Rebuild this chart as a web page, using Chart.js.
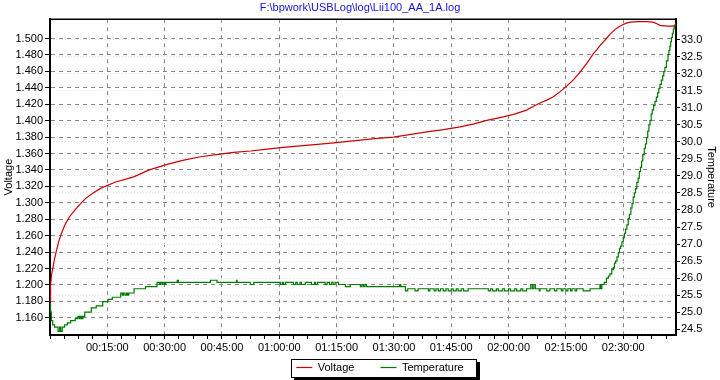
<!DOCTYPE html>
<html>
<head>
<meta charset="utf-8">
<script src="https://cdn.jsdelivr.net/npm/chart.js@4/dist/chart.umd.min.js"></script>
<style>
html,body{margin:0;padding:0;background:#fff;}
#wrap{width:720px;height:380px;}
</style>
</head>
<body>
<div id="wrap"><canvas id="c" width="720" height="380"></canvas></div>
<script>
// ---- data (time in minutes) ----
const chartTitle = 'F:\\bpwork\\USBLog\\log\\Lii100_AA_1A.log';
const seriesNames = ['Voltage', 'Temperature'];

const voltTime = [0, 0.15, 0.4, 0.8, 1.2, 1.7, 2.3, 3.0, 4.0, 5.1, 6.5, 8.0, 9.5, 11.3, 13.2, 17.0, 21.9, 26.0, 30.7, 35.0, 39.4, 44.0, 48.1, 52.5, 56.8, 61.0, 65.5, 70.0, 74.2, 78.0, 81.2, 85.0, 89.9, 94.0, 98.6, 103.0, 107.3, 111.0, 114.0, 118.6, 121.5, 124.7, 126.5, 128.5, 130.0, 131.7, 133.4, 135.2, 137.0, 138.7, 140.5, 142.1, 143.2, 144.0, 144.8, 145.6, 146.5, 147.4, 148.1, 148.8, 150.0, 151.0, 151.8, 154.0, 156.0, 157.8, 158.8, 159.6, 161.5, 163.0, 163.8];
const voltValue = [1.180, 1.200, 1.212, 1.222, 1.232, 1.242, 1.253, 1.263, 1.274, 1.283, 1.291, 1.299, 1.306, 1.312, 1.3175, 1.325, 1.3316, 1.340, 1.3467, 1.352, 1.356, 1.359, 1.3613, 1.363, 1.3653, 1.3675, 1.3693, 1.371, 1.373, 1.3748, 1.3763, 1.378, 1.380, 1.383, 1.3864, 1.389, 1.3925, 1.396, 1.400, 1.4046, 1.408, 1.4128, 1.4176, 1.422, 1.425, 1.429, 1.435, 1.442, 1.450, 1.459, 1.470, 1.481, 1.487, 1.492, 1.496, 1.500, 1.505, 1.509, 1.512, 1.514, 1.517, 1.519, 1.520, 1.5205, 1.5205, 1.520, 1.518, 1.516, 1.515, 1.515, 1.516];

const tempTime = [0, 0.15, 0.35, 0.7, 1.2, 2.1, 2.5, 2.8, 3.2, 3.8, 4.55, 5.4, 6.6, 7.3, 7.7, 8.0, 8.3, 8.6, 9.1, 10.8, 12.1, 13.8, 15.2, 16.3, 18.5, 18.9, 19.2, 19.6, 20.0, 20.3, 20.6, 22.0, 25.0, 28.0,
  28.6, 28.9, 29.3, 29.6, 30.0, 30.3, 33.3, 33.6, 42.0, 43.7, 48.8, 48.95, 52.4, 53.3,
  60.3, 60.8, 61.1, 61.6, 63.7, 64.3, 64.7, 65.4, 65.8, 66.8, 68.4, 69.2, 69.5, 70.0, 72.0, 72.5, 73.1, 73.6, 74.1, 74.6,
  75.5, 77.3, 78.6, 81.2, 81.6, 82.0, 82.4, 82.8, 91.5, 91.8,
  93.0, 93.6, 95.5, 96.3, 99.0, 99.4,
  100.5, 101.0, 101.6, 102.2, 102.9, 103.6, 104.2, 105.0, 105.5, 106.3, 106.8, 107.6, 108.2, 109.4,
  114.7, 115.3, 115.8, 116.8, 117.3, 118.4, 118.9, 120.0, 120.5, 121.6, 122.1, 123.2, 123.7, 124.7,
  125.8, 126.2, 126.6, 127.0, 128.0, 128.2,
  130.0, 130.8, 132.0, 132.6, 133.8, 134.2, 135.0, 135.5, 136.2, 136.6, 137.4, 137.8, 139.5, 141.3,
  143.9, 144.2, 144.4, 145.0, 145.6, 146.1, 146.5, 147.0, 147.4, 147.7, 148.0, 148.35, 148.7, 149.0, 149.3, 149.65, 150.0, 150.3, 150.6, 150.95, 151.3, 151.6, 152.0, 152.3, 152.6, 152.9, 153.2, 153.55, 153.9, 154.2, 154.5, 154.8, 155.1, 155.5, 155.8, 156.1, 156.4, 156.7, 157.0, 157.3, 157.6, 157.95, 158.3, 158.65, 159.0, 159.3, 159.6, 159.95, 160.3, 160.6, 160.9, 161.3, 161.7, 161.95, 162.2, 162.4, 162.6, 162.85, 163.1, 163.3, 163.5, 163.8];
const tempValue = [25.25, 25.0, 24.75, 24.625, 24.5625, 24.4375, 24.5625, 24.4375, 24.5625, 24.625, 24.6875, 24.75, 24.8125, 24.875, 24.8125, 24.875, 24.8125, 24.875, 25.0, 25.125, 25.1875, 25.3125, 25.375, 25.4375, 25.5625, 25.5, 25.5625, 25.5, 25.5625, 25.5, 25.5625, 25.6875, 25.75, 25.875,
  25.8125, 25.875, 25.8125, 25.875, 25.8125, 25.875, 25.9375, 25.875, 25.9375, 25.875, 25.9375, 25.875, 25.8125, 25.875,
  25.8125, 25.875, 25.8125, 25.875, 25.8125, 25.875, 25.8125, 25.875, 25.8125, 25.875, 25.8125, 25.875, 25.8125, 25.875, 25.8125, 25.875, 25.8125, 25.875, 25.8125, 25.875,
  25.8125, 25.75, 25.8125, 25.75, 25.8125, 25.75, 25.8125, 25.75, 25.8125, 25.75,
  25.625, 25.6875, 25.625, 25.6875, 25.625, 25.6875,
  25.625, 25.6875, 25.625, 25.6875, 25.625, 25.6875, 25.625, 25.6875, 25.625, 25.6875, 25.625, 25.6875, 25.625, 25.6875,
  25.625, 25.6875, 25.625, 25.6875, 25.625, 25.6875, 25.625, 25.6875, 25.625, 25.6875, 25.625, 25.6875, 25.625, 25.6875,
  25.8125, 25.6875, 25.8125, 25.6875, 25.625, 25.6875,
  25.625, 25.6875, 25.625, 25.6875, 25.625, 25.6875, 25.625, 25.6875, 25.625, 25.6875, 25.625, 25.6875, 25.625, 25.6875,
  25.8125, 25.6875, 25.8125, 25.875, 26.0, 26.0625, 26.125, 26.25, 26.3125, 26.4375, 26.5, 26.625, 26.75, 26.875, 26.9375, 27.0625, 27.1875, 27.3125, 27.4375, 27.5625, 27.75, 27.875, 28.0625, 28.1875, 28.375, 28.5, 28.625, 28.8125, 28.9375, 29.125, 29.25, 29.4375, 29.625, 29.8125, 29.9375, 30.125, 30.3125, 30.5, 30.625, 30.8125, 30.9375, 31.0625, 31.1875, 31.3125, 31.4375, 31.5625, 31.6875, 31.8125, 31.9375, 32.0625, 32.1875, 32.375, 32.5625, 32.6875, 32.8125, 32.9375, 33.0625, 33.1875, 33.3125, 33.375, 33.4375, 33.5];

const voltTicks = {min: 1.16, max: 1.50, step: 0.02};
const tempTicks = {min: 24.5, max: 33.0, step: 0.5};
const timeTicks = {step: 3.75, labelEvery: 15};

// ---- helpers ----
function fmtTime(m) {
  const s = Math.round(m * 60);
  const hh = Math.floor(s / 3600), mm = Math.floor((s % 3600) / 60), ss = s % 60;
  const p = n => String(n).padStart(2, '0');
  return p(hh) + ':' + p(mm) + ':' + p(ss);
}
function isMajor(v) {
  const r = v / timeTicks.labelEvery;
  return Math.abs(r - Math.round(r)) < 1e-6 && v > 0;
}

const SHIFT_X = 20;
const LEG_PAD = 26;
const LEG_CENTER_Y = 367.5;

const frame = {
  id: 'frame',
  afterLayout(chart) {
    const l = chart.legend;
    if (!l) return;
    l.left += SHIFT_X; l.right += SHIFT_X;
    l.top = LEG_CENTER_Y - 5.5 - LEG_PAD;
    l.bottom = chart.height;
    l.height = l.bottom - l.top;
  },
  beforeDraw(chart) {
    const ctx = chart.ctx;
    ctx.save();
    ctx.fillStyle = '#fff';
    ctx.fillRect(0, 0, chart.width, chart.height);
    const l = chart.legend;
    if (l && l.lineWidths) {
      const p = LEG_PAD;
      const x0 = (l.left + p + l.right - l.lineWidths[0]) / 2;
      const x1 = x0 + l.lineWidths[0] - p;
      const bx = Math.round(x0 - 5) + 0.5, bw = Math.round(x1 + 13 - x0 + 5);
      const by = Math.round(LEG_CENTER_Y - 9) + 0.5, bh = 18;
      ctx.fillStyle = '#000';
      ctx.fillRect(bx + 2.5, by + 2.5, bw + 1, bh + 1);
      ctx.fillStyle = '#fff';
      ctx.fillRect(bx, by, bw, bh);
      ctx.strokeStyle = '#000';
      ctx.lineWidth = 1;
      ctx.strokeRect(bx, by, bw, bh);
    }
    ctx.restore();
  },
  afterDraw(chart) {
    const a = chart.chartArea, ctx = chart.ctx;
    ctx.save();
    ctx.strokeStyle = '#000';
    ctx.lineWidth = 1.5;
    ctx.beginPath();
    ctx.moveTo(a.left, a.top);
    ctx.lineTo(a.right, a.top);
    ctx.stroke();
    ctx.restore();
  }
};

Chart.defaults.font.family = '"Liberation Sans", Arial, sans-serif';
Chart.defaults.font.size = 11;
Chart.defaults.color = '#000';

new Chart(document.getElementById('c'), {
  type: 'line',
  data: {
    datasets: [
      {
        label: seriesNames[0],
        data: voltTime.map((t, i) => ({x: t, y: voltValue[i]})),
        borderColor: '#cc0000',
        backgroundColor: '#cc0000',
        borderWidth: 1.2,
        pointRadius: 0,
        tension: 0,
        yAxisID: 'y'
      },
      {
        label: seriesNames[1],
        data: tempTime.map((t, i) => ({x: t, y: tempValue[i]})),
        borderColor: '#007a00',
        backgroundColor: '#007a00',
        borderWidth: 1.2,
        pointRadius: 0,
        stepped: 'before',
        yAxisID: 'y1'
      }
    ]
  },
  options: {
    responsive: false,
    animation: false,
    devicePixelRatio: 1,
    layout: {padding: {left: 2, right: 2, top: 0, bottom: 0}},
    plugins: {
      title: {
        display: true,
        text: chartTitle,
        color: '#1414d2',
        font: {size: 11, weight: 'normal'},
        padding: {top: 1, bottom: 5}
      },
      legend: {
        position: 'bottom',
        maxHeight: 25,
        labels: {
          usePointStyle: true,
          pointStyle: 'line',
          pointStyleWidth: 16,
          padding: LEG_PAD,
          font: {size: 11},
          color: '#000'
        }
      },
      tooltip: {enabled: false}
    },
    scales: {
      x: {
        type: 'linear',
        min: 0,
        max: 163.8,
        afterFit(s) { s.height = 20; },
        border: {display: true, color: '#000', width: 2, dash: [4, 4]},
        grid: {
          color: c => (c.tick && isMajor(c.tick.value)) ? '#8a8a8a' : 'rgba(0,0,0,0)',
          tickColor: '#000',
          tickBorderDash: [],
          tickLength: 4,
          tickWidth: 1,
          lineWidth: 1
        },
        ticks: {
          stepSize: timeTicks.step,
          includeBounds: false,
          autoSkip: false,
          maxRotation: 0,
          padding: 2,
          callback: v => isMajor(v) ? fmtTime(v) : ''
        }
      },
      y: {
        position: 'left',
        min: 1.139,
        max: 1.5235,
        afterFit(s) { s.width = 48; },
        afterBuildTicks(s) { s.ticks = s.ticks.filter(t => t.value >= voltTicks.min - 1e-6 && t.value <= voltTicks.max + 1e-6); },
        border: {display: true, color: '#000', width: 2, dash: [4, 4]},
        title: {display: true, text: seriesNames[0], font: {size: 11}, padding: 0},
        grid: {
          color: '#8a8a8a',
          tickColor: '#000',
          tickBorderDash: [],
          tickLength: 5,
          tickWidth: 1
        },
        ticks: {
          stepSize: voltTicks.step,
          includeBounds: false,
          padding: 2,
          callback: v => Number(v).toFixed(3)
        }
      },
      y1: {
        position: 'right',
        min: 24.33,
        max: 33.6,
        afterFit(s) { s.width = 42; },
        afterBuildTicks(s) { s.ticks = s.ticks.filter(t => t.value >= tempTicks.min - 1e-6 && t.value <= tempTicks.max + 1e-6); },
        border: {display: true, color: '#000', width: 2, dash: [1, 2]},
        title: {display: true, text: seriesNames[1], font: {size: 11}, padding: 0},
        grid: {
          color: '#e6e6e6',
          tickColor: '#000',
          tickBorderDash: [],
          tickLength: 4,
          tickWidth: 1
        },
        ticks: {
          stepSize: tempTicks.step,
          includeBounds: false,
          padding: 1,
          callback: v => Number(v).toFixed(1)
        }
      }
    }
  },
  plugins: [frame]
});
</script>
</body>
</html>
